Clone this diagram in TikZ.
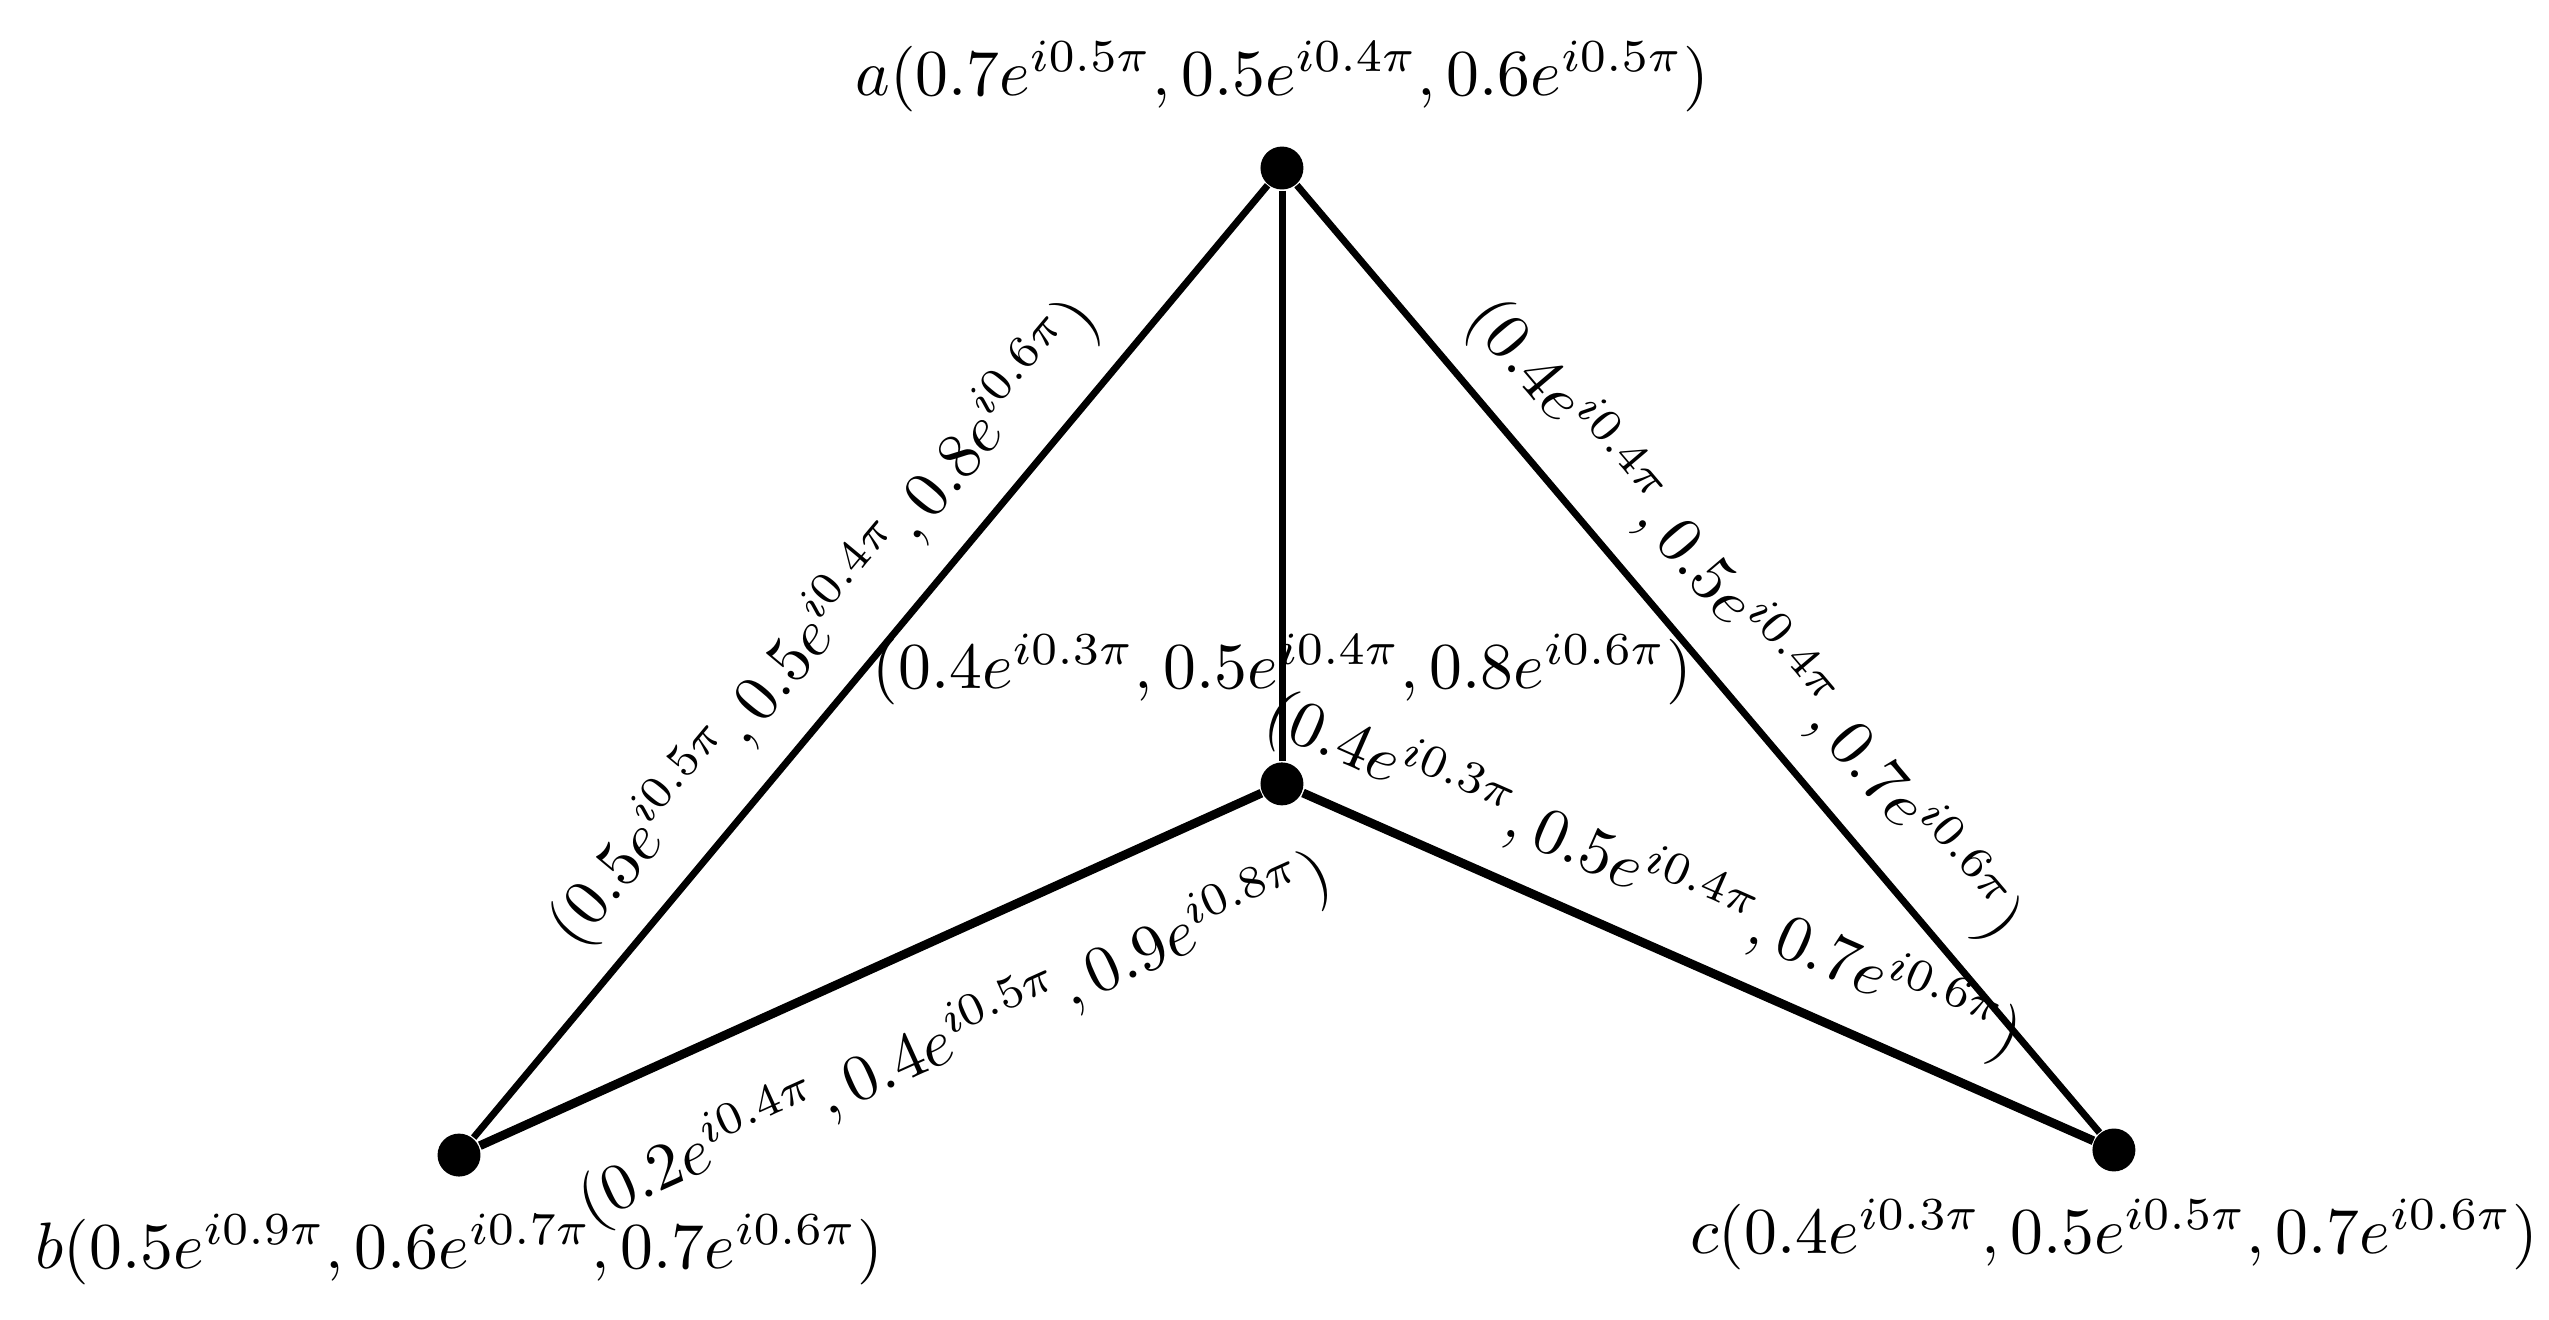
\documentclass[tikz,border=0pt]{standalone}
\begin{document}
\begin{tikzpicture}[
        scale=1.05,
        vert_node/.style={
            fill=black,
            circle,
            inner sep=0pt,
            minimum size=0.23cm
        },
        edge_line/.style={
            line width=1.05pt
        },
        hub_line/.style={
            line width=1.35pt
        }
    ]
        \useasboundingbox (0,0) rectangle (13,6.727);

        \node[vert_node, label={[label distance=1.5pt]above:$a(0.7e^{i0.5\pi},0.5e^{i0.4\pi},0.6e^{i0.5\pi})$}] (a) at (6.538,5.870) {};
        \node[vert_node] (d) at (6.538,2.729) {};
        \node[vert_node, label={[label distance=2pt]below:$b(0.5e^{i0.9\pi},0.6e^{i0.7\pi},0.7e^{i0.6\pi})$}] (b) at (2.341,0.836) {};
        \node[vert_node, label={[label distance=0.5pt]below:$c(0.4e^{i0.3\pi},0.5e^{i0.5\pi},0.7e^{i0.6\pi})$}] (c) at (10.781,0.862) {};

        \draw[edge_line] (b) -- node[midway, above, sloped] {$(0.5e^{i0.5\pi},0.5e^{i0.4\pi},0.8e^{i0.6\pi})$} (a);
        \draw[edge_line] (a) -- node[midway, above, sloped] {$(0.4e^{i0.4\pi},0.5e^{i0.4\pi},0.7e^{i0.6\pi})$} (c);
        \draw[edge_line] (a) -- node[pos=0.84] {$(0.4e^{i0.3\pi},0.5e^{i0.4\pi},0.8e^{i0.6\pi})$} (d);
        \draw[hub_line] (d) -- node[pos=0.4, above, sloped] {$(0.4e^{i0.3\pi},0.5e^{i0.4\pi},0.7e^{i0.6\pi})$} (c);
        \draw[hub_line] (b) -- node[pos=0.556, below=5.5pt, sloped] {$(0.2e^{i0.4\pi},0.4e^{i0.5\pi},0.9e^{i0.8\pi})$} (d);
\end{tikzpicture}
\end{document}
